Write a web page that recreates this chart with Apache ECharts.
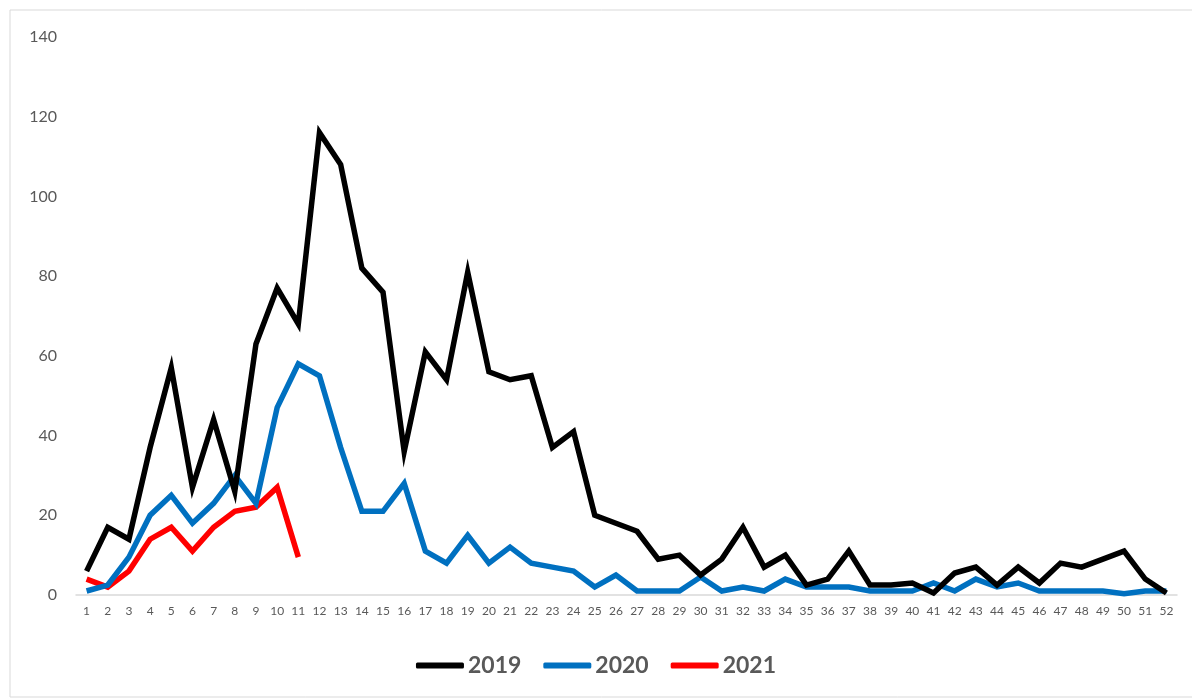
<!DOCTYPE html>
<html><head><meta charset="utf-8">
<script src="https://cdn.jsdelivr.net/npm/echarts@6/dist/echarts.min.js"></script>
<style>html,body{margin:0;padding:0;background:#fff}#c{width:1192px;height:700px}</style>
</head><body><div id="c"></div>
<script>
const weeks = Array.from({length: 52}, (_, i) => String(i + 1));
const s2019 = [6,17,14,37,57,27,44,26,63,77,68,116,108,82,76,36,61,54,81,56,54,55,37,41,20,18,16,9,10,5,9,17,7,10,2.5,4,11,2.5,2.5,3,0.5,5.5,7,2.5,7,3,8,7,9,11,4,0.5];
const s2020 = [1,2.5,9.5,20,25,18,23,30,23,47,58,55,37,21,21,28,11,8,15,8,12,8,7,6,2,5,1,1,1,4.5,1,2,1,4,2,2,2,1,1,1,3,1,4,2,3,1,1,1,1,0.3,1,1];
const s2021 = [4,2,6,14,17,11,17,21,22,27,9.5];
const yTicks = [0,20,40,60,80,100,120,140];
const names = ['2019','2020','2021'];
const colors = ['#000000','#0070C0','#FF0000'];

const chart = echarts.init(document.getElementById('c'));
const font = 'Lato, "Open Sans", sans-serif';
chart.setOption({
  animation: false,
  graphic: [{type:'rect', shape:{x:10,y:10,width:1200,height:687}, style:{fill:'none', stroke:'#d9d9d9', lineWidth:1}}],
  grid: {left: 76, right: 15, top: 37, bottom: 105},
  legend: {
    bottom: 18, left: 'center', itemWidth: 48, itemHeight: 6, itemGap: 22,
    icon: 'roundRect',
    textStyle: {fontSize: 23, fontWeight: 'bold', color: '#595959', fontFamily: font, padding: [0,0,0,-1]},
    data: names
  },
  xAxis: {
    type: 'category', data: weeks, boundaryGap: true,
    axisLine: {lineStyle: {color: '#d9d9d9', width: 1.5}},
    axisTick: {show: false},
    axisLabel: {interval: 0, fontSize: 12, color: '#595959', fontFamily: font, margin: 10}
  },
  yAxis: {
    type: 'value', min: 0, max: 140, interval: 20,
    axisLine: {show: false}, axisTick: {show: false},
    splitLine: {show: false},
    axisLabel: {fontSize: 16, color: '#595959', fontFamily: font, margin: 19,
      formatter: v => yTicks.includes(v) ? String(v) : ''}
  },
  series: [s2019, s2020, s2021].map((d, i) => ({
    name: names[i], type: 'line', data: d, showSymbol: false, symbol: 'none',
    lineStyle: {color: colors[i], width: 5.5, join: 'miter'},
    itemStyle: {color: colors[i]}, z: 3 - i
  }))
});
</script></body></html>
